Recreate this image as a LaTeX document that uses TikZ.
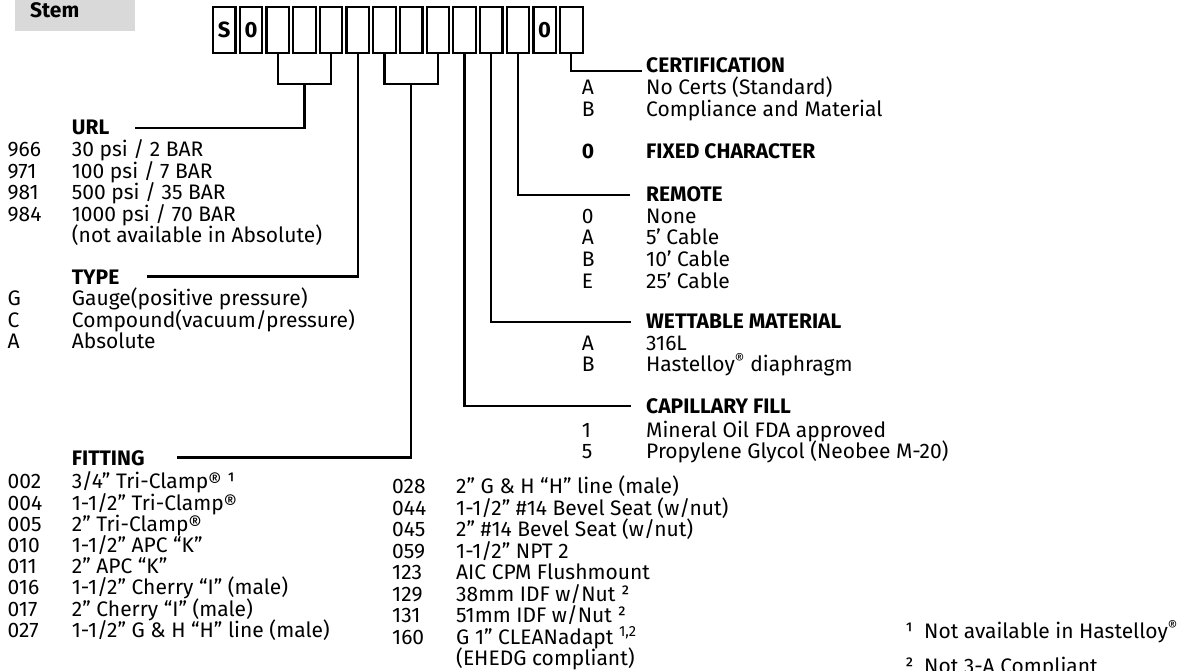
\documentclass[tikz,border=0pt]{standalone}
\usepackage{fontspec}
\setmainfont{Fira Sans}
\definecolor{stemgray}{HTML}{D9D9D9}
\begin{document}
\begin{tikzpicture}[x=1pt,y=-1pt,
  txt/.style={inner sep=0pt, anchor=base west, font=\fontsize{21}{22}\selectfont},
  hdr/.style={inner sep=0pt, anchor=base west, font=\fontsize{21}{22}\selectfont\bfseries},
  cbox/.style={draw, line width=2.2pt, minimum width=22.5pt, minimum height=46pt, inner sep=0pt, font=\fontsize{22}{24}\selectfont\bfseries},
  conn/.style={line width=2.2pt, line join=miter}]
\useasboundingbox (0,0) rectangle (1181,671);
% Stem label
\node[fill=stemgray, minimum width=120pt, minimum height=31pt, inner sep=0pt, anchor=north west] (stembox) at (15,0) {};
\node[hdr] (stem) at (30,17.3) {Stem};
% code boxes
\foreach \i/\t in {0/S,1/0,2/{},3/{},4/{},5/{},6/{},7/{},8/{},9/{},10/{},11/{},12/0,13/{}}
  \node[cbox] (b\i) at ({224.25+26.7*\i},29.7) {\t};
% connector coordinates
\coordinate (k1) at (304.4,84);
\coordinate (k2) at (411.2,84);
\coordinate (urlend) at (135,127.7);
\coordinate (typeend) at (146.7,276.5);
\coordinate (fitend) at (176.7,457.5);
\coordinate (capend) at (631,406.2);
\coordinate (wetend) at (631,321.7);
\coordinate (remend) at (630,195);
\coordinate (certend) at (642,71);
\draw[conn] (b2.south) |- (k1) -| (b4.south);
\draw[conn] (k1) |- (urlend);
\draw[conn] (b5.south) |- (typeend);
\draw[conn] (b6.south) |- (k2) -| (b8.south);
\draw[conn] (k2) |- (fitend);
\draw[conn] (b9.south) |- (capend);
\draw[conn] (b10.south) |- (wetend);
\draw[conn] (b11.south) |- (remend);
\draw[conn] (b13.south) |- (certend);
% URL
\node[hdr] (urlh) at (71.7,134.7) {URL};
\node[txt] (u1c) at (7.5,156.7) {966}; \node[txt] (u1d) at (71.7,156.7) {30 psi / 2 BAR};
\node[txt] (u2c) at (7.5,178.2) {971}; \node[txt] (u2d) at (71.7,178.2) {100 psi / 7 BAR};
\node[txt] (u3c) at (7.5,199.7) {981}; \node[txt] (u3d) at (71.7,199.7) {500 psi / 35 BAR};
\node[txt] (u4c) at (7.5,221.2) {984}; \node[txt] (u4d) at (71.7,221.2) {1000 psi / 70 BAR};
\node[txt] (u5d) at (71.7,242.7) {(not available in Absolute)};
% TYPE
\node[hdr] (typeh) at (71.7,284) {TYPE};
\node[txt] (t1c) at (7.5,305.5) {G}; \node[txt] (t1d) at (71.7,305.5) {Gauge(positive pressure)};
\node[txt] (t2c) at (7.5,327) {C}; \node[txt] (t2d) at (71.7,327) {Compound(vacuum/pressure)};
\node[txt] (t3c) at (7.5,348.5) {A}; \node[txt] (t3d) at (71.7,348.5) {Absolute};
% FITTING
\node[hdr] (fith) at (71.7,465) {FITTING};
\node[txt] (f1c) at (7.5,488.9) {002}; \node[txt] (f1d) at (71.7,488.9) {3/4” Tri-Clamp® ¹};
\node[txt] (f2c) at (7.5,510.1) {004}; \node[txt] (f2d) at (71.7,510.1) {1-1/2” Tri-Clamp®};
\node[txt] (f3c) at (7.5,531.3) {005}; \node[txt] (f3d) at (71.7,531.3) {2” Tri-Clamp®};
\node[txt] (f4c) at (7.5,552.5) {010}; \node[txt] (f4d) at (71.7,552.5) {1-1/2” APC “K”};
\node[txt] (f5c) at (7.5,573.7) {011}; \node[txt] (f5d) at (71.7,573.7) {2” APC “K”};
\node[txt] (f6c) at (7.5,594.9) {016}; \node[txt] (f6d) at (71.7,594.9) {1-1/2” Cherry “I” (male)};
\node[txt] (f7c) at (7.5,616.1) {017}; \node[txt] (f7d) at (71.7,616.1) {2” Cherry “I” (male)};
\node[txt] (f8c) at (7.5,637.3) {027}; \node[txt] (f8d) at (71.7,637.3) {1-1/2” G \& H “H” line (male)};
% FITTING column 2
\node[txt] (g1c) at (392,493.9) {028}; \node[txt] (g1d) at (456,493.9) {2” G \& H “H” line (male)};
\node[txt] (g2c) at (392,515.3) {044}; \node[txt] (g2d) at (456,515.3) {1-1/2” \#14 Bevel Seat (w/nut)};
\node[txt] (g3c) at (392,536.8) {045}; \node[txt] (g3d) at (456,536.8) {2” \#14 Bevel Seat (w/nut)};
\node[txt] (g4c) at (392,558.2) {059}; \node[txt] (g4d) at (456,558.2) {1-1/2” NPT 2};
\node[txt] (g5c) at (392,579.7) {123}; \node[txt] (g5d) at (456,579.7) {AIC CPM Flushmount};
\node[txt] (g6c) at (392,601.1) {129}; \node[txt] (g6d) at (456,601.1) {38mm IDF w/Nut ²};
\node[txt] (g7c) at (392,622.6) {131}; \node[txt] (g7d) at (456,622.6) {51mm IDF w/Nut ²};
\node[txt] (g8c) at (392,644) {160}; \node[txt] (g8d) at (456,644) {G 1” CLEANadapt \textsuperscript{1,2}};
\node[txt] (g9d) at (456,665.5) {(EHEDG compliant)};
% CERTIFICATION
\node[hdr] (certh) at (646,73) {CERTIFICATION};
\node[txt] (c1c) at (581.7,95) {A}; \node[txt] (c1d) at (646,95) {No Certs (Standard)};
\node[txt] (c2c) at (581.7,116.5) {B}; \node[txt] (c2d) at (646,116.5) {Compliance and Material};
% FIXED
\node[hdr] (fxc) at (581.7,158.7) {0}; \node[hdr] (fxd) at (646,158.7) {FIXED CHARACTER};
% REMOTE
\node[hdr] (remh) at (646,202) {REMOTE};
\node[txt] (r1c) at (581.7,223.5) {0}; \node[txt] (r1d) at (646,223.5) {None};
\node[txt] (r2c) at (581.7,245) {A}; \node[txt] (r2d) at (646,245) {5’ Cable};
\node[txt] (r3c) at (581.7,266.5) {B}; \node[txt] (r3d) at (646,266.5) {10’ Cable};
\node[txt] (r4c) at (581.7,288) {E}; \node[txt] (r4d) at (646,288) {25’ Cable};
% WETTABLE
\node[hdr] (weth) at (646,328.7) {WETTABLE MATERIAL};
\node[txt] (w1c) at (581.7,350.2) {A}; \node[txt] (w1d) at (646,350.2) {316L};
\node[txt] (w2c) at (581.7,371.7) {B}; \node[txt] (w2d) at (646,371.7) {Hastelloy\textsuperscript{®} diaphragm};
% CAPILLARY
\node[hdr] (caph) at (646,413.7) {CAPILLARY FILL};
\node[txt] (p1c) at (581.7,437.2) {1}; \node[txt] (p1d) at (646,437.2) {Mineral Oil FDA approved};
\node[txt] (p2c) at (581.7,458.9) {5}; \node[txt] (p2d) at (646,458.9) {Propylene Glycol (Neobee M-20)};
% footnotes
\node[txt] (fn1m) at (905,638.7) {¹}; \node[txt] (fn1t) at (924,638.7) {Not available in Hastelloy\textsuperscript{®}};
\node[txt] (fn2m) at (905,673) {²}; \node[txt] (fn2t) at (924,673) {Not 3-A Compliant};
\end{tikzpicture}
\end{document}
